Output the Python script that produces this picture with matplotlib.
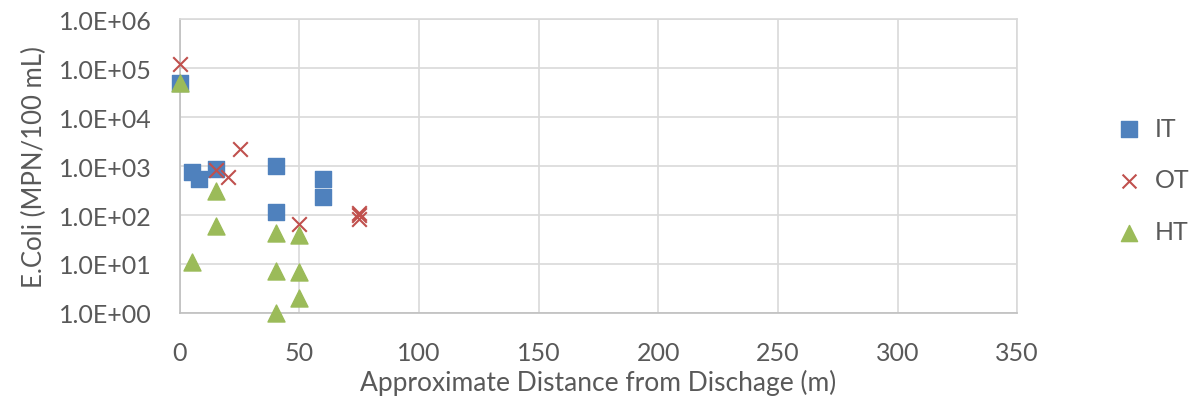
import math
import matplotlib
matplotlib.use("Agg")
import matplotlib.pyplot as plt
from matplotlib.ticker import FixedLocator, FuncFormatter, NullLocator

plt.rcParams['font.family'] = ['Lato', 'DejaVu Sans']

# data
it_x = [0, 5, 8, 15, 40, 40, 60, 60]
it_y = [50000, 740, 550, 890, 1020, 117, 550, 235]

ot_x = [0, 25, 15, 20, 50, 75, 75, 75]
ot_y = [120000, 2200, 815, 600, 65, 112, 100, 82]

ht_x = [0, 15, 15, 5, 40, 40, 40, 50, 50, 50]
ht_y = [50000, 310, 59, 11, 43, 7.2, 1, 39, 7, 2]

x_ticks = [0, 50, 100, 150, 200, 250, 300, 350]
y_ticks = [1, 10, 100, 1000, 1e4, 1e5, 1e6]

blue = '#4F81BD'
red = '#C0504D'
green = '#9BBB59'
grey = '#595959'
gridc = '#D9D9D9'

fig = plt.figure(figsize=(11.91, 4.02), dpi=100)
ax = fig.add_axes([0.151, 0.219, 0.703, 0.731])

ax.scatter(it_x, it_y, marker='s', s=130, color=blue, label='IT', zorder=3, clip_on=False)
ax.scatter(ot_x, ot_y, marker='x', s=110, color=red, linewidths=1.5, label='OT', zorder=4, clip_on=False)
ax.scatter(ht_x, ht_y, marker='^', s=150, color=green, label='HT', zorder=5, clip_on=False)

ax.set_yscale('log')
ax.set_xlim(0, 350)
ax.set_ylim(1, 1e6)
ax.set_xticks(x_ticks)
ax.yaxis.set_major_locator(FixedLocator(y_ticks))
ax.yaxis.set_minor_locator(NullLocator())
ax.yaxis.set_major_formatter(FuncFormatter(lambda v, p: '1.0E+%02d' % round(math.log10(v))))

ax.grid(True, color=gridc, linewidth=1.2, zorder=0)
ax.set_axisbelow(True)
for s in ax.spines.values():
    s.set_color(gridc)
    s.set_linewidth(1.2)
ax.spines['left'].set_color('#BFBFBF')
ax.spines['bottom'].set_color('#BFBFBF')

ax.tick_params(axis='both', length=0, labelsize=18, colors=grey)
ax.tick_params(axis='y', pad=20)
ax.tick_params(axis='x', pad=20)

ax.set_xlabel('Approximate Distance from Dischage (m)', fontsize=19, color=grey, labelpad=4)
ax.set_ylabel('E.Coli (MPN/100 mL)', fontsize=18.5, color=grey, labelpad=9)

fig.legend(loc='center left', bbox_to_anchor=(0.908, 0.55), frameon=False,
           fontsize=18, labelcolor=grey, labelspacing=1.15, handletextpad=0.05,
           markerscale=0.95)

fig.savefig('out.png', dpi=100)
